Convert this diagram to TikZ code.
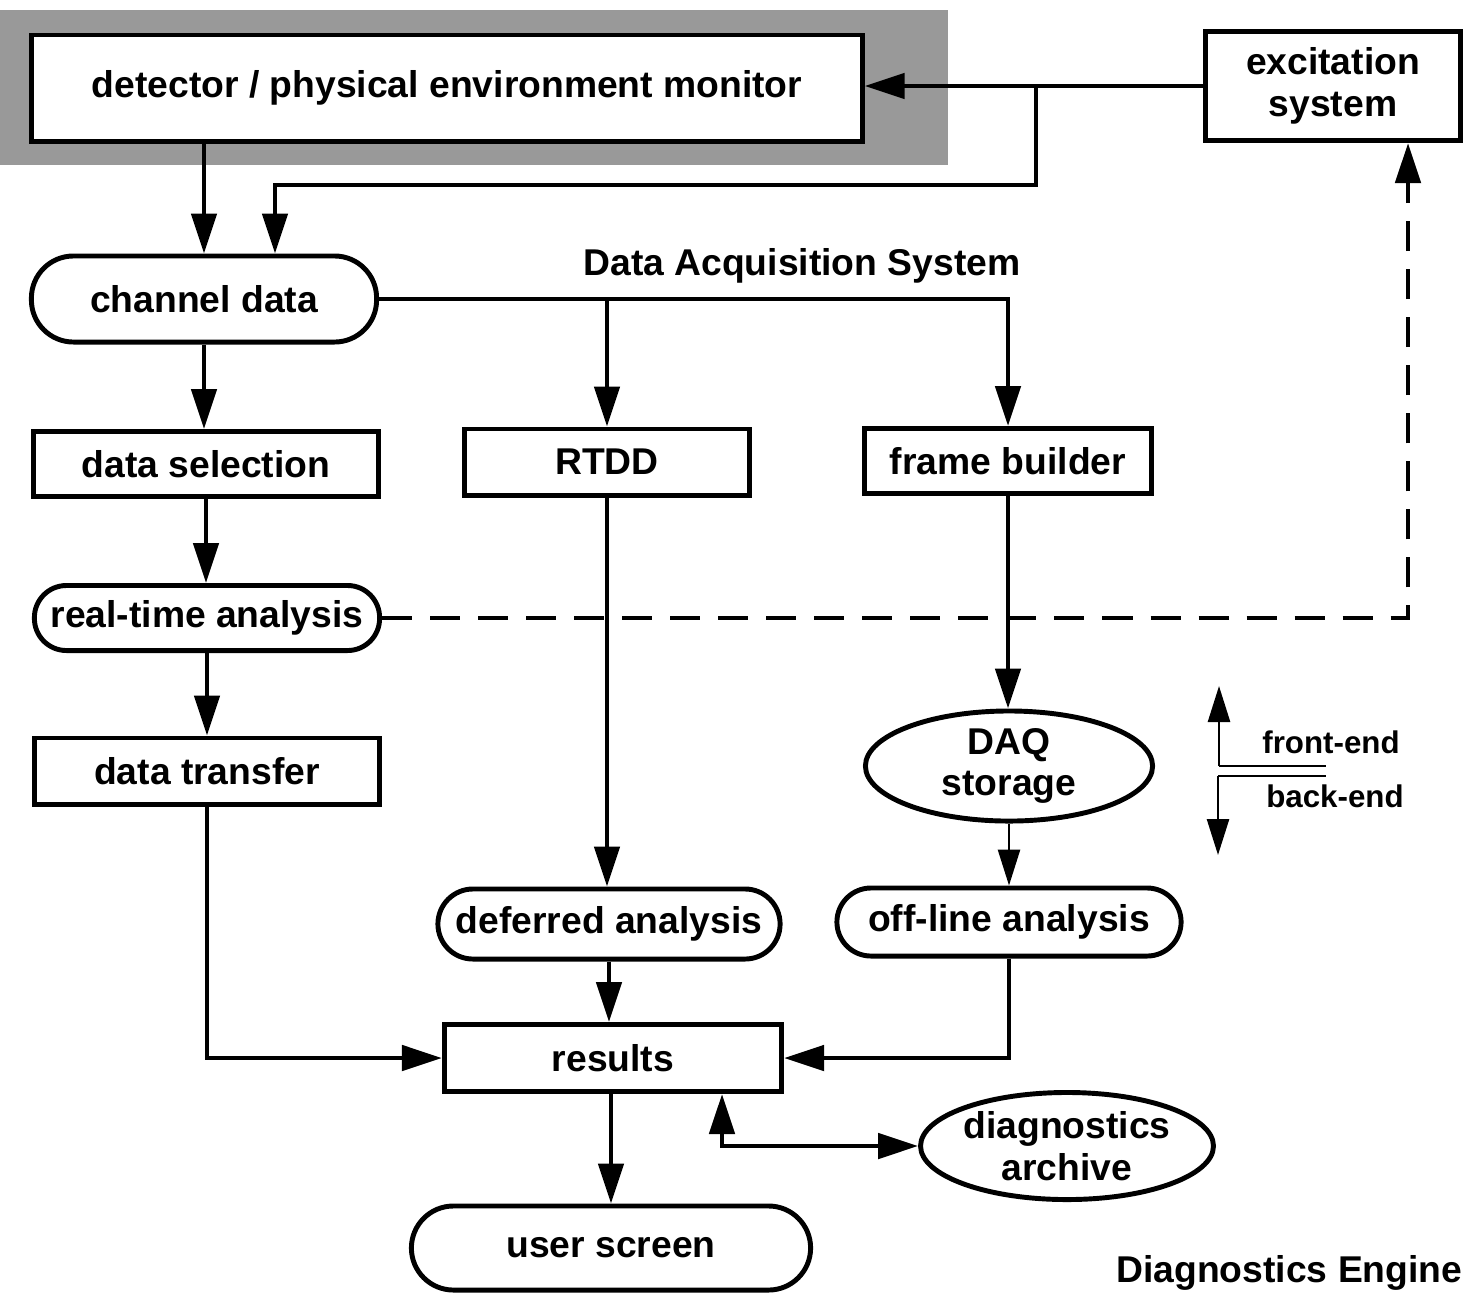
\documentclass[tikz,border=0pt]{standalone}
\usepackage{fontspec}
\setmainfont{Liberation Sans}
\usepackage{tikz}
\usetikzlibrary{calc,arrows.meta,shapes.geometric}
\tikzset{
	lbl/.style={font=\bfseries\fontsize{10.6}{11.8}\selectfont, align=center, inner sep=0pt},
	box/.style={lbl, draw, line width=1.4pt, rectangle, fill=white},
	pill/.style={box, rounded corners=#1},
	oval/.style={lbl, draw, line width=1.4pt, ellipse, fill=white},
	arr/.style={line width=1.4pt, -{Triangle[length=0.4cm,width=0.25cm]}},
	tarr/.style={line width=0.75pt, -{Triangle[length=0.36cm,width=0.22cm]}},
}

\begin{document}
\begin{tikzpicture}[x=0.01cm, y=-0.01cm]
		%%%%% START %%%%%
		\useasboundingbox (0,0) rectangle (1464,1293);
		\fill[black!40] (0,10) rectangle (948,165);
		
		\node[box, minimum width=8.30cm, minimum height=1.06cm] (det) at (447,88) {detector / physical environment monitor};
		\node[box, minimum width=2.54cm, minimum height=1.09cm] (exc) at (1333,86) {excitation\\system};
		
		\node[pill=0.42cm, minimum width=3.45cm, minimum height=0.86cm] (chan) at (204,299) {channel data};
		\node[lbl] (das) at (802,266) {Data Acquisition System};
		
		\node[box, minimum width=3.44cm, minimum height=0.65cm] (sel) at (206,464) {data selection};
		\node[box, minimum width=2.84cm, minimum height=0.66cm] (rtdd) at (607,462) {RTDD};
		\node[box, minimum width=2.86cm, minimum height=0.65cm] (fb) at (1008,461) {frame builder};
		
		\node[pill=0.32cm, minimum width=3.45cm, minimum height=0.65cm] (rta) at (207,618) {real-time analysis};
		\node[box, minimum width=3.45cm, minimum height=0.66cm] (xfer) at (207,771) {data transfer};
		\node[oval, minimum width=2.87cm, minimum height=1.10cm] (daq) at (1009,766) {DAQ\\storage};
		
		\node[pill=0.35cm, minimum width=3.42cm, minimum height=0.70cm] (defer) at (609,924) {deferred analysis};
		\node[pill=0.34cm, minimum width=3.44cm, minimum height=0.68cm] (offl) at (1009,922) {off-line analysis};
		\node[box, minimum width=3.37cm, minimum height=0.67cm] (res) at (613,1058) {results};
		\node[oval, minimum width=2.88cm, minimum height=1.07cm] (arch) at (1067,1146) {diagnostics\\archive};
		\node[pill=0.42cm, minimum width=3.99cm, minimum height=0.84cm] (scr) at (611,1248) {user screen};
		
		\node[lbl, font=\bfseries\fontsize{8.9}{10}\selectfont] (fe) at (1331,742) {front-end};
		\node[lbl, font=\bfseries\fontsize{8.9}{10}\selectfont] (be) at (1335,796) {back-end};
		\node[lbl, anchor=east] (eng) at (1463,1273) {Diagnostics Engine};
		
		% excitation feeds
		\coordinate (br) at (1036,86);
		\draw[arr] (exc.west) -- (exc.west -| det.east);
		\draw[arr] (br) -- ++(0,99) -| ($(chan.north)+(71,0)$);
		\draw[arr] (det.south -| chan.north) -- (chan.north);
		
		% acquisition
		\draw[arr] (chan.east) -| (rtdd.north);
		\draw[arr] (chan.east) -| (fb.north);
		\draw[arr] (chan.south) -- (chan.south |- sel.north);
		\draw[arr] (sel.south) -- (sel.south |- rta.north);
		\draw[arr] (rta.south) -- (rta.south |- xfer.north);
		\draw[arr, dash pattern=on 0.3cm off 0.18cm] (rta.east) -| ($(exc.south)+(75,0)$);
		\draw[arr] (fb.south) -- (fb.south |- daq.north);
		\draw[tarr] (daq.south) -- (daq.south |- offl.north);
		\draw[arr] (rtdd.south) -- (rtdd.south |- defer.north);
		
		% results
		\draw[arr] (xfer.south) |- (res.west);
		\draw[arr] (offl.south) |- (res.east);
		\draw[arr] (defer.south) -- (defer.south |- res.north);
		\draw[arr] (res.south -| scr.north) -- (scr.north);
		\draw[arr, {Triangle[length=0.4cm,width=0.25cm]}-{Triangle[length=0.4cm,width=0.25cm]}] ($(res.south)+(109,0)$) |- (arch.west);
		
		% front-end / back-end
		\coordinate (up) at (1219,766);
		\coordinate (dn) at (1218,776);
		\draw[tarr] (up) -- ++(0,-80);
		\draw[line width=0.75pt] (up) -- ++(107,0);
		\draw[tarr] (dn) -- ++(0,79);
		\draw[line width=0.75pt] (dn) -- ++(108,0);
		%%%%% END %%%%%
\end{tikzpicture}
\end{document}
